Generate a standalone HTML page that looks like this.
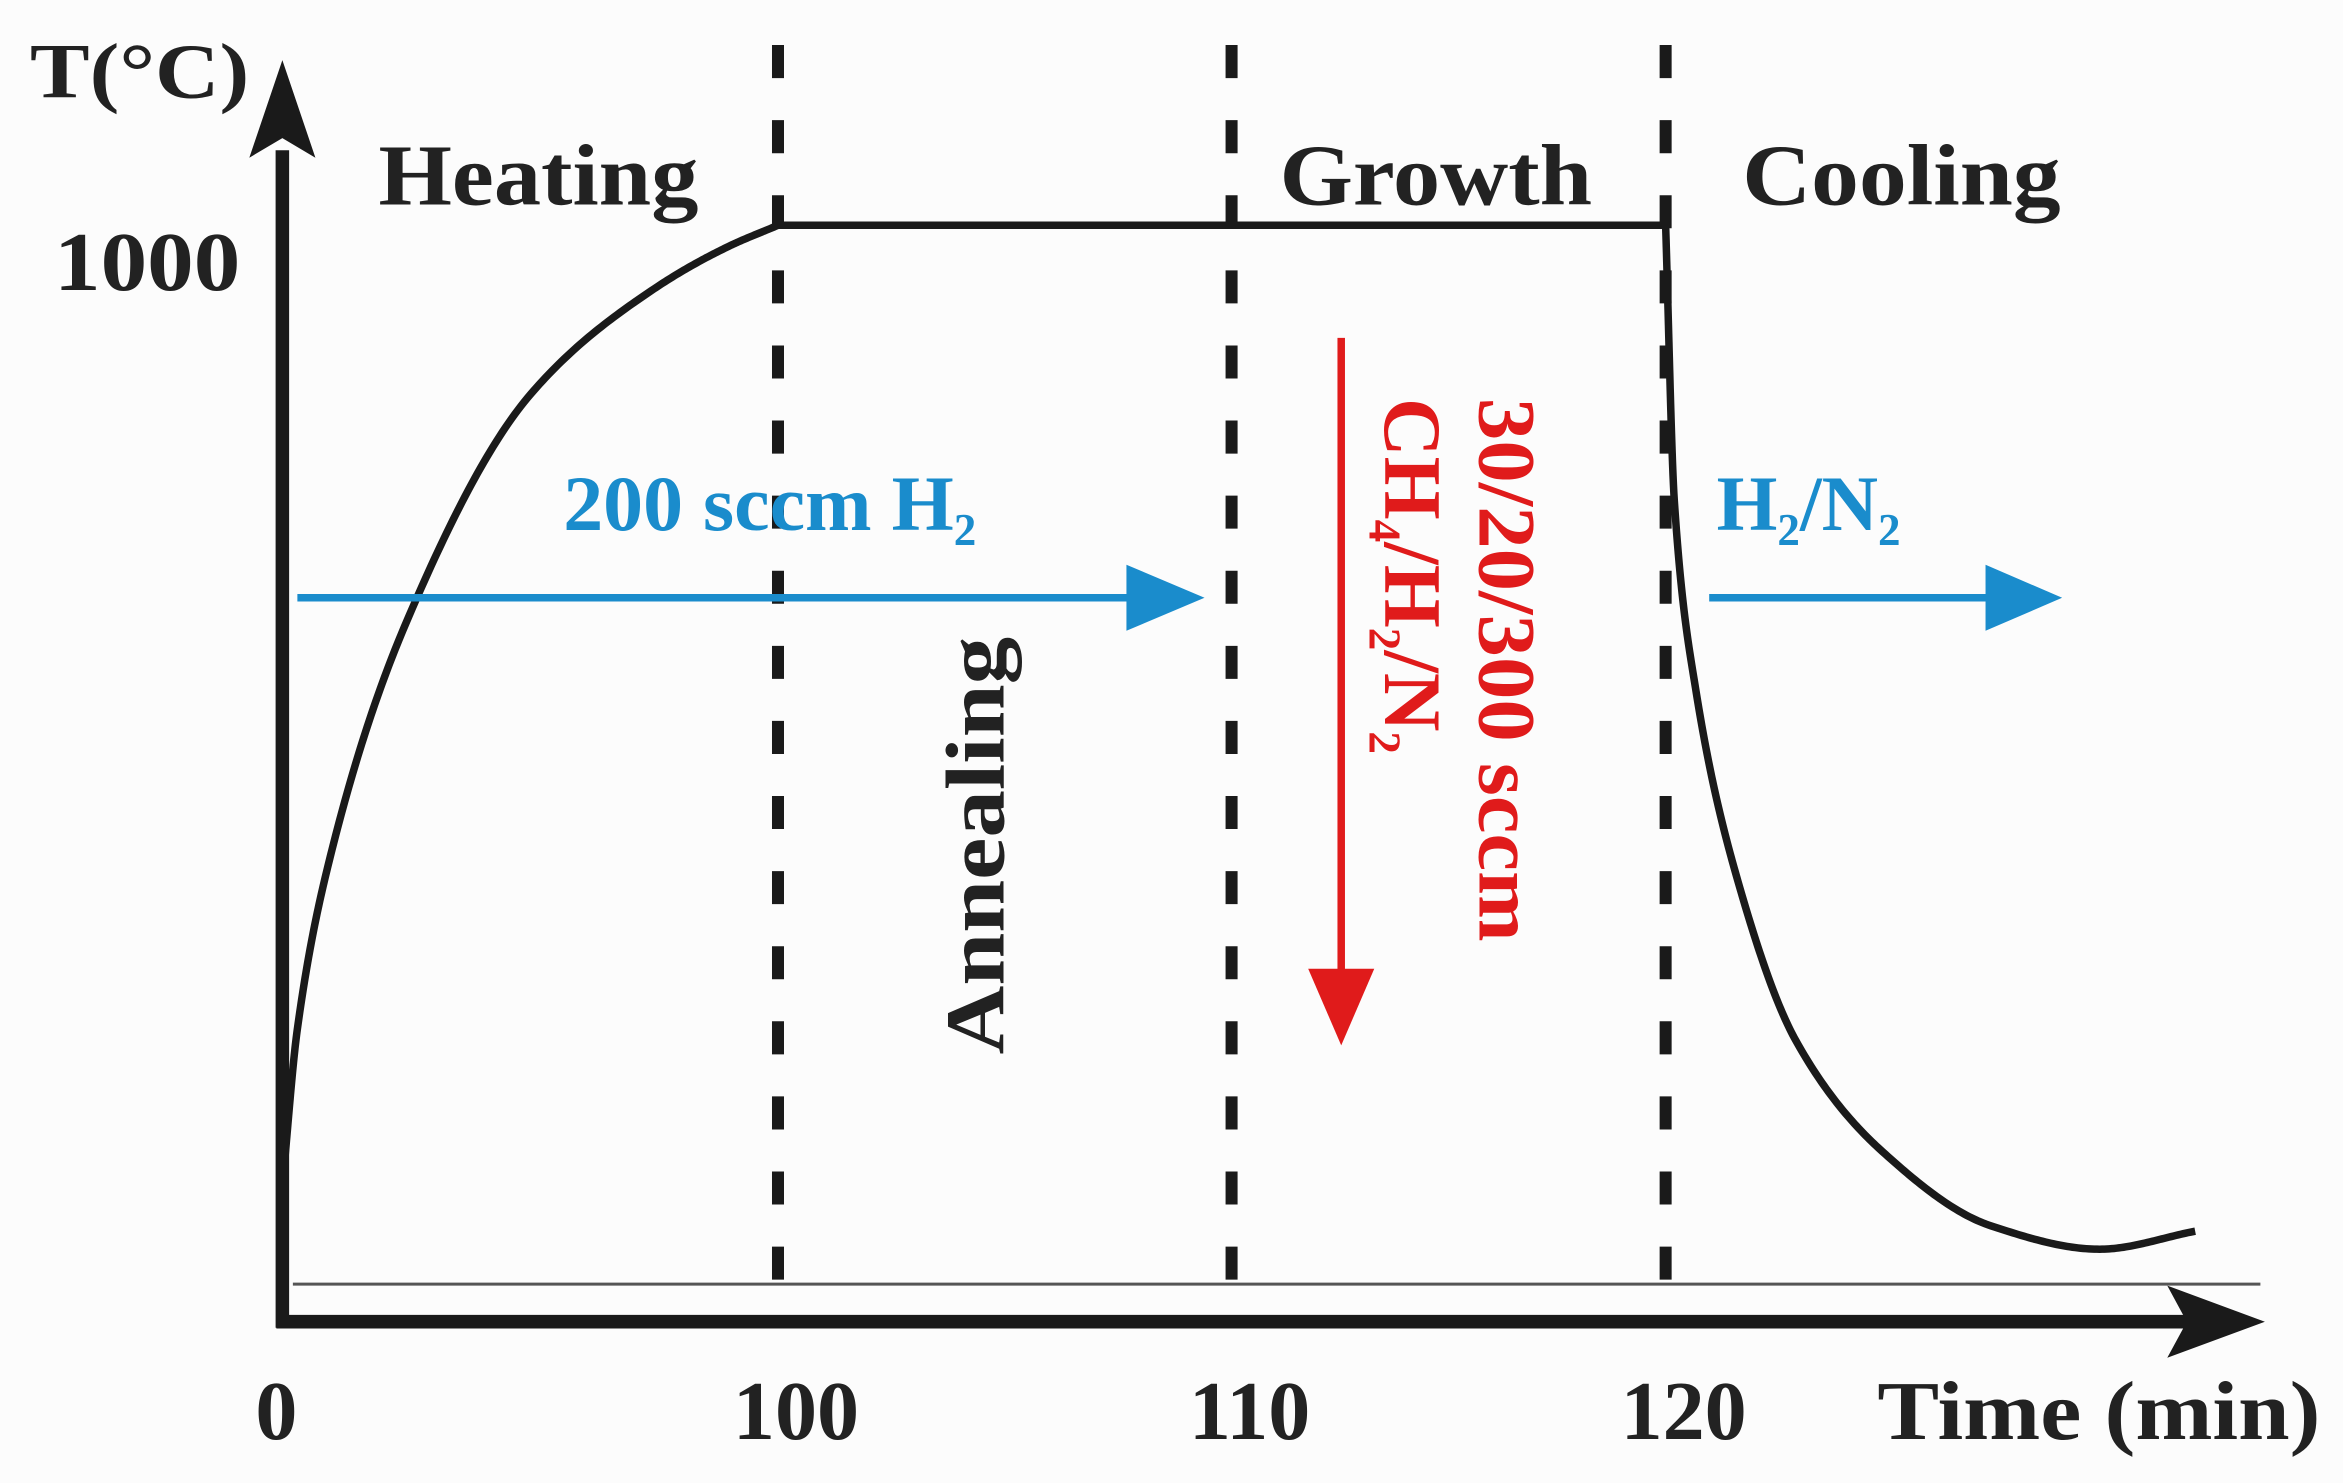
<!DOCTYPE html>
<html><head><meta charset="utf-8"><style>
html,body{margin:0;padding:0;background:#fcfcfc}
svg{display:block}
text{font-family:"Liberation Serif",serif;font-weight:bold}
</style></head><body>
<svg id="chart" width="2343" height="1483" viewBox="0 0 1560 987.4" xmlns="http://www.w3.org/2000/svg">
<rect x="0" y="0" width="1560" height="987.4" fill="#fcfcfc"/>
<g id="marks"></g>
<g id="labels">
<text x="20" y="65" font-size="52" textLength="146" lengthAdjust="spacingAndGlyphs" fill="#222">T(°C)</text>
<text x="36" y="193" font-size="56" textLength="124" lengthAdjust="spacingAndGlyphs" fill="#222">1000</text>
<text x="252" y="136" font-size="58" textLength="213" lengthAdjust="spacingAndGlyphs" fill="#222">Heating</text>
<text x="852" y="136" font-size="58" textLength="208" lengthAdjust="spacingAndGlyphs" fill="#222">Growth</text>
<text x="1160" y="136" font-size="58" textLength="212" lengthAdjust="spacingAndGlyphs" fill="#222">Cooling</text>
<text x="375" y="353" font-size="52" fill="#1a8ccc"><tspan textLength="260" lengthAdjust="spacingAndGlyphs">200 sccm H</tspan><tspan font-size="30" dy="10">2</tspan></text>
<text x="1143" y="353" font-size="52" fill="#1a8ccc">H<tspan font-size="30" dy="10">2</tspan><tspan dy="-10">/N</tspan><tspan font-size="30" dy="10">2</tspan></text>
<text transform="translate(668,702) rotate(-90)" font-size="56" textLength="278" lengthAdjust="spacingAndGlyphs" fill="#222">Annealing</text>
<text transform="translate(985,265) rotate(90)" font-size="54" textLength="362" lengthAdjust="spacingAndGlyphs" fill="#e01b1b">30/20/300 sccm</text>
<text transform="translate(922,265) rotate(90)" font-size="54" fill="#e01b1b">CH<tspan font-size="30" dy="10">4</tspan><tspan dy="-10">/H</tspan><tspan font-size="30" dy="10">2</tspan><tspan dy="-10">/N</tspan><tspan font-size="30" dy="10">2</tspan></text>
<text x="1250" y="958" font-size="56" textLength="295" lengthAdjust="spacingAndGlyphs" fill="#222">Time (min)</text>
</g>
<g id="xticks"></g>
</svg>
<script>
const tickTimes = [0, 100, 110, 120];
const tickLabels = ["0", "100", "110", "120"];
const heatTime = [0, 3, 10, 25, 50, 75, 90, 100];
const heatTemp = [92, 240, 410, 625, 840, 940, 980, 1000];
const holdTime = [100, 120];
const holdTemp = [1000, 1000];
const coolTime = [120, 120.2, 120.7, 121.6, 123, 125, 127.5, 130, 132.2];
const coolTemp = [1000, 740, 560, 390, 230, 125, 55, 33, 50];
const phaseBoundaries = [100, 110, 120];

const tickPx = [188, 518, 820, 1109];
function xs(t){
  for(let i=0;i<tickTimes.length-1;i++){
    if(t<=tickTimes[i+1]) return tickPx[i]+(t-tickTimes[i])/(tickTimes[i+1]-tickTimes[i])*(tickPx[i+1]-tickPx[i]);
  }
  const n=tickTimes.length-1;
  return tickPx[n]+(t-tickTimes[n])*(tickPx[n]-tickPx[n-1])/(tickTimes[n]-tickTimes[n-1]);
}
function ys(v){ return 855 - v*0.705; }

const NS="http://www.w3.org/2000/svg";
const marks=document.getElementById('marks');
function mk(tag,attrs){const e=document.createElementNS(NS,tag);for(const k in attrs)e.setAttribute(k,attrs[k]);return e;}

function monoPts(ts,vs){
  const X=ts.map(xs), Y=vs.map(ys), n=X.length;
  const d=[],m=new Array(n);
  for(let i=0;i<n-1;i++) d.push((Y[i+1]-Y[i])/(X[i+1]-X[i]));
  m[0]=d[0]; m[n-1]=d[n-2];
  for(let i=1;i<n-1;i++){
    if(d[i-1]*d[i]<=0) m[i]=0;
    else { const w1=2*(X[i+1]-X[i])+(X[i]-X[i-1]), w2=(X[i+1]-X[i])+2*(X[i]-X[i-1]);
      m[i]=(w1+w2)/(w1/d[i-1]+w2/d[i]); }
  }
  const pts=[];
  for(let i=0;i<n-1;i++){
    const h=X[i+1]-X[i];
    for(let k=0;k<40;k++){
      const s=k/40, h00=2*s*s*s-3*s*s+1, h10=s*s*s-2*s*s+s, h01=-2*s*s*s+3*s*s, h11=s*s*s-s*s;
      pts.push([X[i]+s*h, h00*Y[i]+h10*h*m[i]+h01*Y[i+1]+h11*h*m[i+1]]);
    }
  }
  pts.push([X[n-1],Y[n-1]]);
  return pts;
}

let base=mk('line',{x1:195,y1:855,x2:1505,y2:855,stroke:'#555','stroke-width':2});


marks.appendChild(base);

phaseBoundaries.forEach((t,i)=>{
  const l=mk('line',{x1:xs(t),y1:30,x2:xs(t),y2:866,stroke:'#1a1a1a','stroke-width':8,'stroke-dasharray':'22 28'});
  
  
  marks.appendChild(l);
});

let ya=mk('line',{x1:188,y1:100,x2:188,y2:884,stroke:'#1a1a1a','stroke-width':9});


marks.appendChild(ya);
let yh=mk('polygon',{points:'188,40 166,105 188,92 210,105',fill:'#1a1a1a'});


marks.appendChild(yh);
let xa=mk('line',{x1:184,y1:880,x2:1460,y2:880,stroke:'#1a1a1a','stroke-width':9});


marks.appendChild(xa);
let xh=mk('polygon',{points:'1508,880 1443,856 1456,880 1443,904',fill:'#1a1a1a'});


marks.appendChild(xh);

const allPts=monoPts(heatTime,heatTemp)
  .concat([[xs(holdTime[0]),ys(holdTemp[0])],[xs(holdTime[1]),ys(holdTemp[1])]])
  .concat(monoPts(coolTime,coolTemp));
const curveD='M'+allPts.map(p=>p[0].toFixed(2)+','+p[1].toFixed(2)).join(' L');
let curve=mk('path',{d:curveD,fill:'none',stroke:'#1a1a1a','stroke-width':5,'stroke-linejoin':'round'});


marks.appendChild(curve);

let b1=mk('line',{x1:198,y1:398,x2:760,y2:398,stroke:'#1a8ccc','stroke-width':5});


marks.appendChild(b1);
let b1h=mk('polygon',{points:'802,398 750,376 750,420',fill:'#1a8ccc'});


marks.appendChild(b1h);
let b2=mk('line',{x1:1138,y1:398,x2:1330,y2:398,stroke:'#1a8ccc','stroke-width':5});


marks.appendChild(b2);
let b2h=mk('polygon',{points:'1373,398 1322,376 1322,420',fill:'#1a8ccc'});


marks.appendChild(b2h);

let r=mk('line',{x1:893,y1:225,x2:893,y2:660,stroke:'#e01b1b','stroke-width':5});


marks.appendChild(r);
let rh=mk('polygon',{points:'893,696 871,645 915,645',fill:'#e01b1b'});


marks.appendChild(rh);

const xt=document.getElementById('xticks');
tickTimes.forEach((t,i)=>{
  const tx=mk('text',{x:xs(t)+(i===0?-4:12),y:958,'font-size':56,'text-anchor':'middle',fill:'#222'});
  tx.textContent=tickLabels[i];
  
  
  xt.appendChild(tx);
});
</script>
</body></html>
